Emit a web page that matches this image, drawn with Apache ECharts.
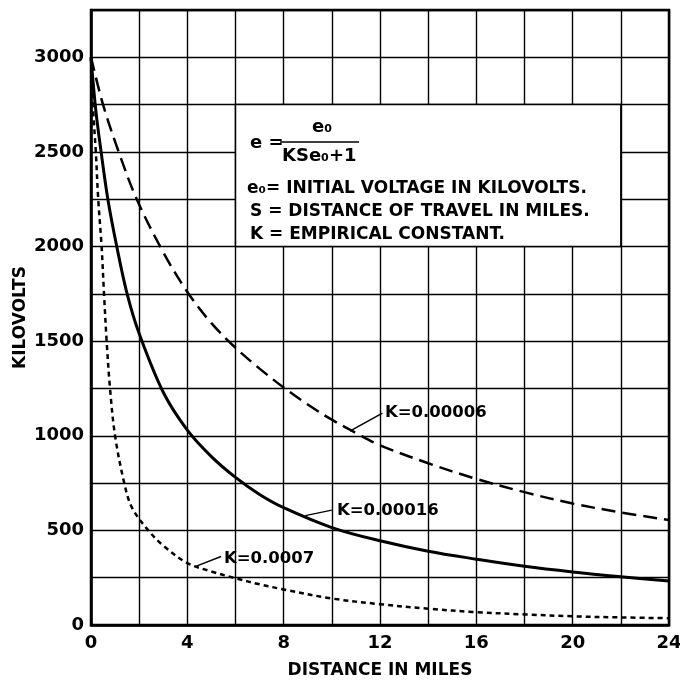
<!DOCTYPE html>
<html>
<head>
<meta charset="utf-8">
<script src="https://cdn.jsdelivr.net/npm/echarts@6/dist/echarts.min.js"></script>
<style>html,body{margin:0;padding:0;background:#fff}#c{width:680px;height:681px}</style>
</head>
<body>
<div id="c"></div>
<script>
// Distance in miles / kilovolts
const sK00006 = [0,0.5,1.15,1.9,3,4,5,6,7,8,9,10,11,12,14,16,18,20,22,24];
const kvK00006 = [3000,2750,2500,2250,1970,1760,1595,1465,1355,1255,1165,1085,1015,950,855,772,702,642,595,555];

const sK00016 = [0,0.2,0.42,0.7,1.07,1.5,2,3,4,5,6,7,8,10,12,14,16,18,20,22,24];
const kvK00016 = [3000,2720,2500,2250,2000,1750,1540,1230,1030,890,780,690,620,515,445,390,348,310,280,255,233];

const sK0007 = [0,0.1,0.2,0.3,0.44,0.54,0.65,0.79,1.0,1.38,1.7,2.38,3,4,5,6,7,8,10,12,14,16,18,20,22,24];
const kvK0007 = [3000,2700,2500,2250,2000,1750,1500,1250,1000,750,620,500,420,327,283,247,215,188,140,110,86,68,56,46,40,36];

const xTickLabels = ['0','4','8','12','16','20','24'];
const yTickLabels = ['0','500','1000','1500','2000','2500','3000'];

const curveLabels = ['K=0.00006','K=0.00016','K=0.0007'];

function pairs(xs, ys){ return xs.map((x,i)=>[x, ys[i]]); }

const FONT = 'DejaVu Sans';
const chart = echarts.init(document.getElementById('c'), null, {renderer:'canvas'});

const arrowStyle = {color:'#000', type:'solid', width:1.5};
function arrow(from, to){
  return {
    silent:true, symbol:['none','arrow'], symbolSize:[0,9],
    lineStyle:arrowStyle, label:{show:false},
    data:[[{coord:from},{coord:to}]]
  };
}
function txt(x, y, text, size){
  return {type:'text', z:100, style:{x:x, y:y, text:text, textVerticalAlign:'middle',
    font:'bold '+size+'px "DejaVu Sans"', fill:'#000'}};
}

chart.setOption({
  animation:false,
  backgroundColor:'#fff',
  grid:{left:91,right:11,top:10,bottom:56,containLabel:false,outerBoundsMode:'none',
    show:true,borderColor:'#000',borderWidth:2.5,backgroundColor:'#fff'},
  xAxis:{
    type:'value',min:0,max:24,interval:2,
    name:'DISTANCE IN MILES',nameLocation:'middle',nameGap:37,
    nameTextStyle:{fontFamily:FONT,fontWeight:'bold',fontSize:17,color:'#000'},
    axisLine:{show:true,lineStyle:{color:'#000',width:2.5}},
    axisTick:{show:false},
    axisLabel:{margin:9,fontFamily:FONT,fontWeight:'bold',fontSize:18,color:'#000',
      formatter:v=>{const i=xTickLabels.indexOf(String(v));return i>=0?xTickLabels[i]:'';}},
    splitLine:{show:true,lineStyle:{color:'#000',width:1.4}}
  },
  yAxis:{
    type:'value',min:0,max:3250,interval:250,
    name:'KILOVOLTS',nameLocation:'middle',nameGap:62,nameRotate:90,nameMoveOverlap:false,
    nameTextStyle:{fontFamily:FONT,fontWeight:'bold',fontSize:17,color:'#000'},
    axisLine:{show:true,lineStyle:{color:'#000',width:2.5}},
    axisTick:{show:false},
    axisLabel:{margin:7,fontFamily:FONT,fontWeight:'bold',fontSize:18,color:'#000',
      formatter:v=>{const i=yTickLabels.indexOf(String(v));return i>=0?yTickLabels[i]:'';}},
    splitLine:{show:true,lineStyle:{color:'#000',width:1.4}}
  },
  series:[
    {
      name:curveLabels[0],type:'line',data:pairs(sK00006,kvK00006),
      showSymbol:false,smooth:0.35,
      lineStyle:{color:'#000',width:2.5,type:[14,7]},
      markArea:{silent:true,itemStyle:{color:'#fff',borderColor:'#000',borderWidth:1.5},
        data:[[{coord:[6,2750]},{coord:[22,2000]}]]},
      markLine:arrow([12.1,1120],[10.75,1025])
    },
    {
      name:curveLabels[1],type:'line',data:pairs(sK00016,kvK00016),
      showSymbol:false,smooth:0.35,
      lineStyle:{color:'#000',width:3,type:'solid'},
      markLine:arrow([10.0,607],[8.9,578])
    },
    {
      name:curveLabels[2],type:'line',data:pairs(sK0007,kvK0007),
      showSymbol:false,smooth:0.35,
      lineStyle:{color:'#000',width:2.5,type:[5,4]},
      markLine:arrow([5.4,362],[4.35,310])
    }
  ],
  graphic:[
    txt(250,143,'e =',18),
    txt(312,127,'e₀',18),
    {type:'line',z:100,shape:{x1:280,y1:142,x2:359,y2:142},style:{stroke:'#000',lineWidth:1.6}},
    txt(282,156,'KSe₀+1',18),
    txt(247,189,'e₀= INITIAL VOLTAGE IN KILOVOLTS.',17),
    txt(250,212,'S = DISTANCE OF TRAVEL IN MILES.',17),
    txt(250,235,'K = EMPIRICAL CONSTANT.',17),
    txt(385,413,curveLabels[0],16.5),
    txt(337,511,curveLabels[1],16.5),
    txt(224,559,curveLabels[2],16.5)
  ]
});
</script>
</body>
</html>
